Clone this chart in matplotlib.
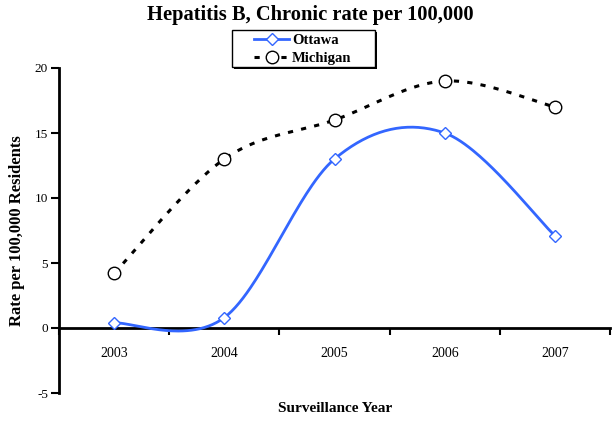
import matplotlib
matplotlib.use("Agg")
import matplotlib.pyplot as plt
from matplotlib.patches import Rectangle
import numpy as np

years = ["2003", "2004", "2005", "2006", "2007"]
ottawa = [0.4, 0.8, 13, 15, 7.1]
michigan = [4.2, 13, 16, 19, 17]
yticks = [-5, 0, 5, 10, 15, 20]


def smooth(xs, ys, n=60):
    xs = np.asarray(xs, float)
    ys = np.asarray(ys, float)
    px, py = [], []
    m = len(xs)
    for i in range(m - 1):
        i0 = max(i - 1, 0)
        i3 = min(i + 2, m - 1)
        c1x = xs[i] + (xs[i + 1] - xs[i0]) / 6
        c1y = ys[i] + (ys[i + 1] - ys[i0]) / 6
        c2x = xs[i + 1] - (xs[i3] - xs[i]) / 6
        c2y = ys[i + 1] - (ys[i3] - ys[i]) / 6
        t = np.linspace(0, 1, n)
        bx = (1 - t) ** 3 * xs[i] + 3 * (1 - t) ** 2 * t * c1x + 3 * (1 - t) * t ** 2 * c2x + t ** 3 * xs[i + 1]
        by = (1 - t) ** 3 * ys[i] + 3 * (1 - t) ** 2 * t * c1y + 3 * (1 - t) * t ** 2 * c2y + t ** 3 * ys[i + 1]
        px.extend(bx)
        py.extend(by)
    return np.array(px), np.array(py)


plt.rcParams['font.family'] = ['Liberation Serif', 'DejaVu Serif']

W, H = 613, 423
fig = plt.figure(figsize=(W / 100, H / 100), dpi=100)
ax = fig.add_axes([59 / W, 30 / H, 551 / W, 325 / H])

x = np.arange(len(years))
blue = '#3366FF'
dash = (0, (1.7, 2.7))

sx, sy = smooth(x, ottawa)
ax.plot(sx, sy, color=blue, lw=2.0, zorder=3)
ax.plot(x, ottawa, ls='none', marker='D', ms=6, mfc='white', mec=blue, mew=1.0, zorder=4)

mx, my = smooth(x, michigan)
ax.plot(mx, my, color='black', lw=2.2, ls=dash, zorder=3)
ax.plot(x, michigan, ls='none', marker='o', ms=9, mfc='white', mec='black', mew=1.0, zorder=4)

# legend box with shadow (figure pixel coords)
fig.patches.append(Rectangle((234 / W, 1 - 69 / H), 143 / W, 37 / H, transform=fig.transFigure,
                             facecolor='black', edgecolor='black', lw=0, zorder=1))
fig.patches.append(Rectangle((232 / W, 1 - 67 / H), 143 / W, 37 / H, transform=fig.transFigure,
                             facecolor='white', edgecolor='black', lw=1.0, zorder=2))

h1, = ax.plot([], [], color=blue, lw=2.0, marker='D', ms=6, mfc='white', mec=blue, mew=1.0)
h2, = ax.plot([], [], color='black', lw=2.2, ls=dash, marker='o', ms=9, mfc='white', mec='black', mew=1.0)
leg = fig.legend([h1, h2], ['Ottawa', 'Michigan'], loc='upper left',
                 bbox_to_anchor=(254 / W, 1 - 33.5 / H), ncol=1, numpoints=1,
                 frameon=False, prop={'weight': 'bold', 'size': 10.5}, handlelength=2.4,
                 borderpad=0, labelspacing=0.33, handletextpad=0.2, borderaxespad=0)
leg.set_zorder(5)

ax.set_xlim(-0.5, len(years) - 0.5)
ax.set_ylim(-5, 20)
ax.set_yticks(yticks)
ax.set_yticklabels([str(v) for v in yticks])

ax.set_xticks(np.arange(-0.5, len(years), 1.0))
ax.set_xticklabels([])
ax.set_xticks(x, minor=True)
ax.set_xticklabels(years, minor=True)
ax.tick_params(axis='x', which='minor', length=0, pad=13.5, labelsize=10)
ax.tick_params(axis='x', which='major', length=5, width=1.5, direction='out', color='black')
ax.tick_params(axis='y', length=6, width=1.5, direction='out', labelsize=9.5, pad=2)

for s in ['top', 'right']:
    ax.spines[s].set_visible(False)
ax.spines['bottom'].set_position(('data', 0))
ax.spines['bottom'].set_linewidth(2)
ax.spines['left'].set_linewidth(2)

fig.text(310 / W, 1 - 15 / H, 'Hepatitis B, Chronic rate per 100,000', ha='center', va='center',
         fontsize=14.8, fontweight='bold')
fig.text(335 / W, 1 - 408 / H, 'Surveillance Year', ha='center', va='center',
         fontsize=11, fontweight='bold')
fig.text(17 / W, 1 - 231 / H, 'Rate per 100,000 Residents', ha='center', va='center',
         rotation=90, fontsize=12, fontweight='bold')

fig.savefig('out.png', dpi=100)
